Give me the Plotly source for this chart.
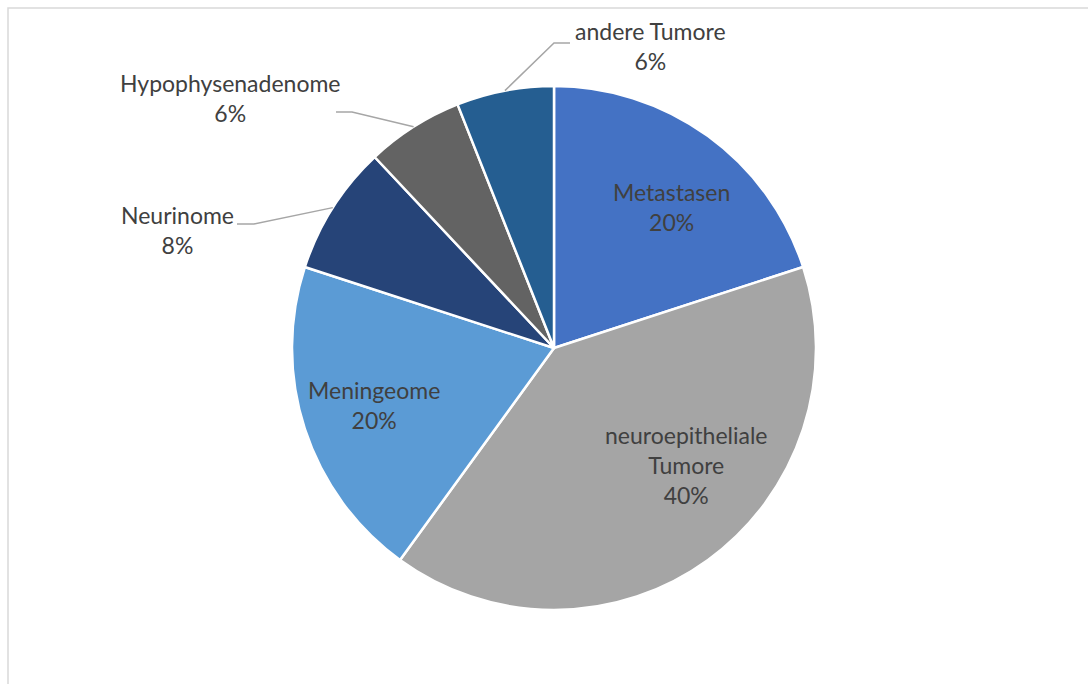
import math
import plotly.graph_objects as go

# Tumour types and their share (%)
labels = ["Metastasen", "neuroepitheliale Tumore", "Meningeome",
          "Neurinome", "Hypophysenadenome", "andere Tumore"]
values = [20, 40, 20, 8, 6, 6]
colors = ["#4472C4", "#A5A5A5", "#5B9BD5", "#264478", "#636363", "#255E91"]

W, H = 1088, 684
CX, CY, R = 554, 348, 262          # pie centre and radius in pixels
FONT = "Lato, Calibri, Carlito, sans-serif"
TEXT_COLOR = "#404040"
FS = 23


def px(x):
    return x / W


def py(y):
    return 1 - y / H


# label placement: inside labels by radial fraction along the mid-angle,
# outside labels by text centre plus leader elbow
inside_labels = {
    "Metastasen": {"text": "Metastasen", "r": 0.702, "dang": 3.9},
    "neuroepitheliale Tumore": {"text": "neuroepitheliale<br>Tumore", "r": 0.673, "dang": -12.4},
    "Meningeome": {"text": "Meningeome", "r": 0.72, "dang": 0.4},
}
outside_labels = {
    "Neurinome": {"pos": (177, 230), "elbow": (254, 224), "start": (237, 224)},
    "Hypophysenadenome": {"pos": (230, 98), "elbow": (352, 112), "start": (336, 112)},
    "andere Tumore": {"pos": (650, 46), "elbow": (554, 43), "start": (570, 43)},
}

total = sum(values)
fig = go.Figure(go.Pie(
    labels=labels,
    values=values,
    sort=False,
    direction="clockwise",
    rotation=0,
    marker=dict(colors=colors, line=dict(color="white", width=2.5)),
    textinfo="none",
    showlegend=False,
    domain=dict(x=[px(CX - R), px(CX + R)], y=[py(CY + R), py(CY - R)]),
))

annotations = []
shapes = []
cum = 0
for lab, v in zip(labels, values):
    start_ang = cum / total * 360
    cum += v
    mid = start_ang + v / total * 180
    pct = f"{round(v / total * 100):.0f}%"
    if lab in inside_labels:
        info = inside_labels[lab]
        a = math.radians(mid + info["dang"])
        x = CX + info["r"] * R * math.sin(a)
        y = CY - info["r"] * R * math.cos(a)
        annotations.append(dict(
            x=px(x), y=py(y), xref="paper", yref="paper",
            text=f"{info['text']}<br>{pct}", showarrow=False,
            xanchor="center", yanchor="middle",
            font=dict(family=FONT, size=FS, color=TEXT_COLOR)))
    else:
        info = outside_labels[lab]
        a = math.radians(mid)
        ex = CX + R * math.sin(a)
        ey = CY - R * math.cos(a)
        (sx, sy), (bx, by) = info["start"], info["elbow"]
        shapes.append(dict(
            type="path", xref="paper", yref="paper",
            path=f"M {px(sx)} {py(sy)} L {px(bx)} {py(by)} L {px(ex)} {py(ey)}",
            line=dict(color="#A6A6A6", width=1.5)))
        x, y = info["pos"]
        annotations.append(dict(
            x=px(x), y=py(y), xref="paper", yref="paper",
            text=f"{lab}<br>{pct}", showarrow=False,
            xanchor="center", yanchor="middle",
            font=dict(family=FONT, size=FS, color=TEXT_COLOR)))

# chart-area frame
shapes.append(dict(type="rect", xref="paper", yref="paper",
                   x0=px(8), y0=-0.05, x1=1.05, y1=py(8),
                   line=dict(color="#D9D9D9", width=1.5)))

fig.update_layout(
    width=W, height=H,
    margin=dict(l=0, r=0, t=0, b=0),
    paper_bgcolor="white", plot_bgcolor="white",
    annotations=annotations, shapes=shapes,
)

fig.write_html("out.html")
